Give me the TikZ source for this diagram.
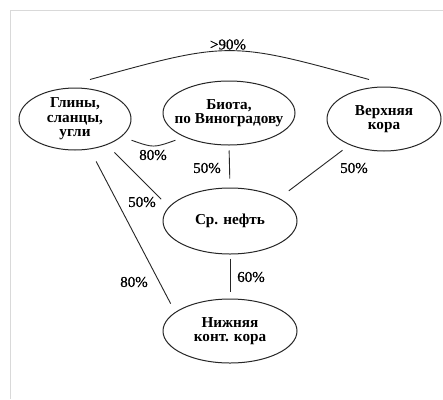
\documentclass[tikz,border=0pt]{standalone}
\usepackage{fontspec}
\setmainfont{Liberation Serif}
\newfontfamily\labfont[FakeBold=0.8]{Liberation Serif}
\usetikzlibrary{shapes.geometric}
\begin{document}
\begin{tikzpicture}[x=1pt,y=-1pt,
  el/.style={draw=black!85, ellipse, line width=1pt, inner sep=-4pt, align=center,
             font=\fontsize{15.2}{14.5}\selectfont\bfseries},
  lab/.style={font=\labfont\fontsize{15}{15}\selectfont, inner sep=0pt},
  con/.style={draw=black!85, line width=0.9pt}]
\useasboundingbox (0,0) rectangle (443,399);
\fill[white] (0,0) rectangle (443,399);
\draw[black!15, line width=1pt] (443,10) -- (10,10) -- (10,399);

\node[el, minimum width=112pt, minimum height=62pt] (g) at (75,119) {Глины,\\сланцы,\\угли};
\node[el, inner xsep=-12pt, minimum width=132pt, minimum height=64pt] (b) at (229,113) {Биота,\\по Виноградову};
\node[el, minimum width=114pt, minimum height=64pt] (v) at (384,119) {Верхняя\\кора};
\node[el, minimum width=134pt, minimum height=66pt] (n) at (230,221) {Ср. нефть};
\node[el, minimum width=134pt, minimum height=64pt] (l) at (230,331) {Нижняя\\конт. кора};

\draw[con, shorten <=10.5pt, shorten >=10.8pt] (g.-39) -- (n.167);
\draw[con, shorten <=13.6pt, shorten >=9.6pt] (g.-64) -- (l.161);
\draw[con, shorten <=8.8pt, shorten >=12pt] (v.-143) -- (n.25);
\draw[con, shorten <=5pt, shorten >=9pt] (b.south) -- (n.north);
\draw[con, shorten <=4pt, shorten >=7pt] (n.south) -- (l.north);

\draw[con] ([shift={(15pt,8pt)}]g.north) .. controls (229.5,41) .. ([shift={(-15pt,7pt)}]v.north);
\draw[con] ([shift={(9.2pt,-4pt)}]g.-20) .. controls (153.5,148) .. ([shift={(-7.6pt,-3.8pt)}]b.207);

\node[lab] (t90) at (228,44.5) {>90\%};
\node[lab] (t80a) at (153,155) {80\%};
\node[lab] (t50a) at (207,168) {50\%};
\node[lab] (t50b) at (354,168) {50\%};
\node[lab] (t50c) at (142,202) {50\%};
\node[lab] (t80b) at (134,282) {80\%};
\node[lab] (t60) at (251,277) {60\%};
\end{tikzpicture}
\end{document}
